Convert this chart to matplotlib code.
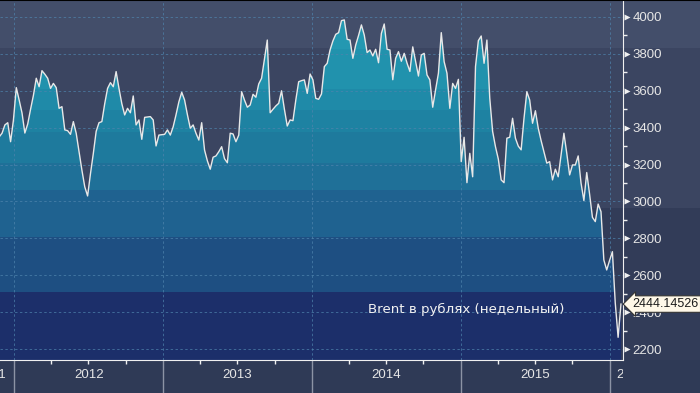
import numpy as np
import pandas as pd
import matplotlib
matplotlib.use("Agg")
import matplotlib.pyplot as plt
import matplotlib.dates as mdates
import matplotlib.transforms as mtransforms
from matplotlib.patches import Rectangle
from matplotlib.lines import Line2D

# Brent в рублях, недельные значения
end_date = "2016-01-29"
brent_rub = [
    3350, 3370, 3415, 3427, 3324, 3442, 3617, 3550, 3480, 3371,
    3420, 3500, 3575, 3668, 3622, 3709, 3690, 3668, 3613, 3640,
    3617, 3505, 3514, 3388, 3384, 3364, 3433, 3370, 3270, 3170,
    3080, 3030, 3150, 3260, 3380, 3427, 3433, 3530, 3613, 3644,
    3622, 3704, 3613, 3530, 3469, 3505, 3481, 3572, 3415, 3442,
    3337, 3456, 3458, 3460, 3442, 3301, 3360, 3362, 3364, 3388,
    3360, 3405, 3470, 3540, 3592, 3550, 3470, 3397, 3415, 3370,
    3333, 3427, 3279, 3220, 3175, 3240, 3247, 3270, 3297, 3232,
    3210, 3370, 3366, 3324, 3360, 3595, 3550, 3511, 3523, 3581,
    3565, 3637, 3668, 3770, 3875, 3481, 3500, 3518, 3532, 3600,
    3500, 3409, 3442, 3438, 3550, 3649, 3655, 3659, 3586, 3691,
    3659, 3559, 3554, 3583, 3731, 3749, 3821, 3870, 3906, 3915,
    3980, 3984, 3879, 3875, 3776, 3848, 3900, 3957, 3902, 3807,
    3821, 3789, 3825, 3752, 3911, 3962, 3825, 3821, 3660, 3776,
    3812, 3760, 3803, 3750, 3705, 3838, 3760, 3680, 3794, 3803,
    3686, 3659, 3511, 3605, 3695, 3915, 3758, 3695, 3505, 3640,
    3613, 3662, 3216, 3348, 3102, 3261, 3134, 3731, 3872, 3897,
    3749, 3875, 3560, 3380, 3297, 3230, 3117, 3102, 3343, 3348,
    3451, 3343, 3300, 3280, 3450, 3595, 3550, 3424, 3492, 3397,
    3330, 3270, 3208, 3216, 3117, 3175, 3134, 3250, 3370, 3261,
    3144, 3198, 3198, 3247, 3100, 3005, 3157, 3040, 2914, 2891,
    2986, 2945, 2683, 2629, 2680, 2728, 2450, 2264, 2444.14526,
]
dates = pd.date_range(end=end_date, periods=len(brent_rub), freq="W-FRI")
last_label = "2444.14526"
title_text = "Brent в рублях (недельный)"
years = [2012, 2013, 2014, 2015]
y_ticks = list(range(2200, 4001, 200))

W, H = 700, 393
fig = plt.figure(figsize=(W / 100, H / 100), dpi=100)
fig.patch.set_facecolor("#2f3a56")

# фоновые полосы (в пикселях сверху)
def fig_band(top_px, bot_px, color):
    r = Rectangle((0, 1 - bot_px / H), 1, (bot_px - top_px) / H,
                  transform=fig.transFigure, facecolor=color,
                  edgecolor="none", zorder=-5)
    fig.patches.append(r)

fig_band(0, 48, "#434e6a")
fig_band(48, 208, "#3b4561")
fig_band(208, 360, "#323c58")
fig.add_artist(Line2D([0, 1], [1, 1], transform=fig.transFigure,
                      color="#000000", lw=1.5))

ax = fig.add_axes([0, 33 / H, 623 / W, 360 / H])
ax.patch.set_alpha(0)
ax.set_xlim(pd.Timestamp("2011-11-27"), pd.Timestamp("2016-02-03"))
ax.set_ylim(2141, 4092)

# область под линией, закрашенная полосами
poly = ax.fill_between(dates, brent_rub, 2000, facecolor="none",
                       edgecolor="none")
edges_px = [0, 49, 89, 110, 132, 163, 190, 237, 292, 360]
band_colors = ["#2498b1", "#2192ad", "#1f8aa8", "#1e82a2", "#1e7a9d",
               "#1f7098", "#1f6290", "#1e4f82", "#1c2f6a"]
for i, c in enumerate(band_colors):
    y0 = 1 - edges_px[i + 1] / 360
    y1 = 1 - edges_px[i] / 360
    r = Rectangle((0, y0), 1, y1 - y0, transform=ax.transAxes,
                  facecolor=c, edgecolor="none", zorder=1)
    ax.add_patch(r)
    r.set_clip_path(poly.get_paths()[0], ax.transData)

ax.plot(dates, brent_rub, color="#e8e8e8", lw=1.0, zorder=4)

# сетка
for v in y_ticks:
    ax.axhline(v, color="#4f84ad", lw=0.7, ls=(0, (2.5, 2.5)), alpha=0.7,
               zorder=3)
for y in years + [2016]:
    ax.axvline(pd.Timestamp(f"{y}-01-01"), color="#4f84ad", lw=0.7,
               ls=(0, (2.5, 2.5)), alpha=0.7, zorder=3)

# оси
for s in ["top", "left"]:
    ax.spines[s].set_visible(False)
ax.spines["right"].set_color("#f0f0f0")
ax.spines["bottom"].set_color("#f0f0f0")
ax.spines["right"].set_zorder(6)
ax.spines["bottom"].set_zorder(6)

ax.yaxis.tick_right()
ax.set_yticks(y_ticks)
ax.set_yticks(range(2200, 4100, 100), minor=True)
ax.tick_params(axis="y", which="major", length=0, pad=7, labelsize=9.5,
               labelcolor="#e6e6e6")
ax.tick_params(axis="y", which="minor", length=3, width=1, color="#f0f0f0",
               direction="out")
for lab in ax.get_yticklabels():
    lab.set_family("Liberation Sans")

tri_tr = mtransforms.offset_copy(ax.get_yaxis_transform(), fig=fig,
                                 x=3.2, units="points")
ax.plot([1.0] * len(y_ticks), y_ticks, transform=tri_tr, ls="none",
        marker=">", ms=5, color="#f0f0f0", mec="none", clip_on=False,
        zorder=7)

ax.xaxis.set_major_locator(mdates.YearLocator())
ax.xaxis.set_minor_locator(mdates.MonthLocator(bymonth=[4, 7, 10]))
ax.xaxis.set_major_formatter(plt.NullFormatter())
ax.tick_params(axis="x", which="major", length=24, width=1,
               color="#8c93a5", direction="out")
ax.tick_params(axis="x", which="minor", length=3, width=1,
               color="#f0f0f0", direction="out")

xlab_tr = ax.get_xaxis_transform()
clip = mtransforms.TransformedBbox(mtransforms.Bbox([[0, -1], [1, 1]]),
                                   ax.transAxes)
year_pos = [(pd.Timestamp("2011-12-12"), "2011", "right")]
year_pos += [(pd.Timestamp(f"{y}-07-02"), str(y), "center") for y in years]
year_pos += [(pd.Timestamp("2016-01-17"), "2016", "left")]
for d, s, ha in year_pos:
    t = ax.text(d, -0.042, s, transform=xlab_tr, ha=ha, va="center",
                color="#e6e6e6", fontsize=9.5, family="Liberation Sans")
    t.set_clip_box(clip)
    t.set_clip_on(True)

# подпись последнего значения
lab_tr = mtransforms.offset_copy(ax.get_yaxis_transform(), fig=fig,
                                 x=6.5, units="points")
ax.text(1.0, brent_rub[-1], last_label, transform=lab_tr, ha="left",
        va="center", fontsize=9, color="#1a1a1a", family="Liberation Sans",
        bbox=dict(boxstyle="larrow,pad=0.18", fc="#fff8e8", ec="#333333",
                  lw=0.8), clip_on=False, zorder=8)

ax.text(0.748, 0.139, title_text, transform=ax.transAxes, ha="center",
        va="center", color="#f2f2f2", fontsize=9.6, zorder=8)

fig.savefig("out.png", dpi=100, facecolor=fig.get_facecolor())
